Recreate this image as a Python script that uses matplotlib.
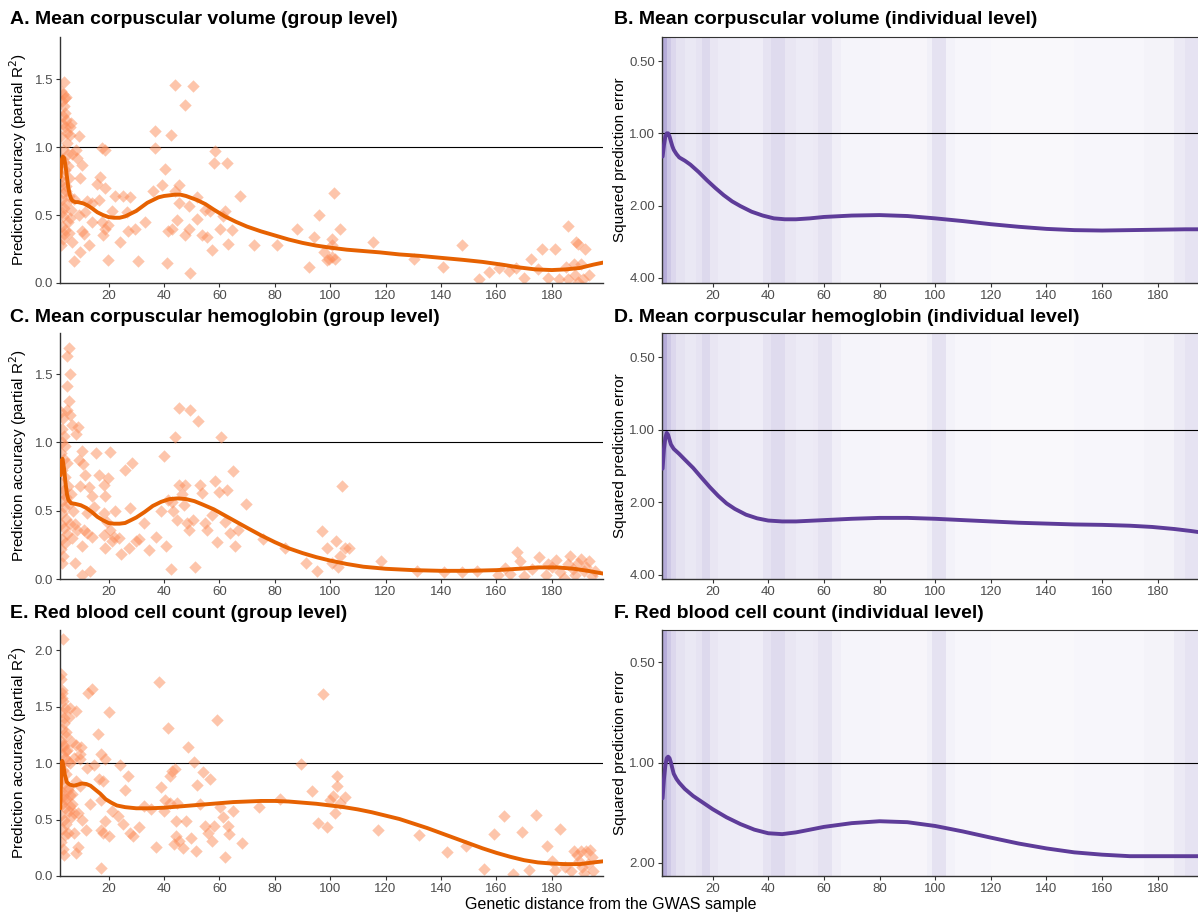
import matplotlib
matplotlib.use("Agg")
import matplotlib.pyplot as plt
import numpy as np

plt.rcParams['font.family'] = ['Liberation Sans', 'DejaVu Sans']

# colours
orange_pt = '#FC8D59'
orange_ln = '#E66101'
purple_pt = '#9A8CCB'
purple_ln = '#5E3C99'
axis_col = '#333333'
tick_col = '#4D4D4D'

# ---- group level: mean corpuscular volume (distance, partial R2) ----
a_pts = [(3.0, 1.41), (3.6, 1.39), (4.6, 1.37), (3.2, 1.34), (3.9, 1.30), (3.4, 1.23), (4.8, 1.20),
         (6.5, 1.18), (4.2, 1.15), (3.0, 1.08), (4.9, 1.03), (3.6, 0.98), (5.3, 0.95), (3.1, 0.91),
         (4.0, 0.89), (5.5, 0.86), (3.3, 0.79), (4.6, 0.71), (3.6, 0.66), (5.9, 0.64), (3.0, 0.61),
         (4.8, 0.59), (6.4, 0.54), (3.7, 0.49), (5.3, 0.45), (3.1, 0.42), (4.2, 0.39), (5.9, 0.37),
         (3.6, 0.32), (3.0, 0.28), (7.0, 0.30), (3.3, 0.75), (4.2, 0.83), (5.0, 1.10), (3.8, 0.55),
         (4.5, 0.68), (3.4, 1.17), (2.9, 0.72), (5.6, 0.77), (3.2, 0.52), (4.4, 1.25), (3.9, 0.36),
         (6.2, 0.48), (3.8, 1.48), (4.2, 1.36), (6.2, 1.15), (6.2, 1.09), (9.2, 1.08), (8.4, 0.98),
         (7.6, 0.62), (8.6, 0.92), (6.8, 0.95), (9.8, 0.77), (10.4, 0.87), (9.2, 0.50), (10.4, 0.38),
         (11.0, 0.36), (9.8, 0.23), (7.4, 0.16), (12.2, 0.60), (11.6, 0.52), (12.8, 0.28), (14.0, 0.45),
         (14.0, 0.59), (15.8, 0.73), (16.4, 0.61), (17.0, 0.78), (17.6, 0.45), (18.1, 0.35), (18.8, 0.40),
         (18.8, 0.70), (19.9, 0.43), (17.6, 0.99), (18.8, 0.98), (19.9, 0.17), (21.1, 0.53), (22.3, 0.64),
         (24.1, 0.30), (25.3, 0.64), (26.5, 0.52), (27.1, 0.38), (27.8, 0.63), (29.5, 0.40), (30.7, 0.16),
         (33.2, 0.45), (36.0, 0.68), (36.9, 1.12), (36.6, 0.99), (39.3, 0.72), (40.5, 0.84), (41.1, 0.15),
         (41.5, 0.38), (42.5, 1.09), (43.9, 1.46), (42.9, 0.40), (44.1, 0.68), (45.3, 0.72), (45.3, 0.59),
         (44.7, 0.46), (47.7, 1.31), (47.7, 0.35), (49.0, 0.40), (49.0, 0.57), (49.5, 0.07), (50.4, 1.45),
         (51.9, 0.63), (51.9, 0.47), (53.7, 0.35), (55.0, 0.54), (55.5, 0.34), (56.8, 0.53), (57.4, 0.24),
         (58.0, 0.88), (58.6, 0.97), (60.3, 0.40), (61.5, 0.49), (62.1, 0.53), (62.8, 0.88), (63.3, 0.29),
         (64.5, 0.39), (67.6, 0.64), (72.6, 0.28), (80.8, 0.28), (88.0, 0.40), (92.2, 0.12), (94.3, 0.34),
         (95.8, 0.50), (97.8, 0.23), (98.7, 0.17), (99.6, 0.18), (100.8, 0.28), (101.4, 0.66), (100.5, 0.32),
         (101.9, 0.18), (103.4, 0.40), (115.4, 0.30), (100.8, 0.19), (130.4, 0.18), (140.6, 0.12),
         (147.6, 0.28), (153.8, 0.03), (157.4, 0.08), (161.0, 0.11), (164.4, 0.09), (167.0, 0.11),
         (170.0, 0.04), (172.5, 0.18), (174.9, 0.10), (176.5, 0.25), (178.5, 0.04), (181.3, 0.25),
         (182.5, 0.03), (185.1, 0.12), (186.0, 0.42), (188.7, 0.30), (189.5, 0.29), (192.1, 0.25),
         (188.0, 0.14), (190.5, 0.14), (188.4, 0.06), (191.3, 0.03), (189.6, 0.01), (193.6, 0.06),
         (185.7, 0.03)]
a_fit_x = [2.7, 3.0, 3.5, 4.0, 4.5, 5.0, 5.5, 6.0, 6.5, 7.0, 8.0, 9.0, 10.0, 11.0, 12.5, 14, 16, 18, 20, 22,
           24, 26, 28, 30, 32, 34, 36, 38, 40, 42, 44, 46, 48, 50, 52, 55, 58, 62, 66, 70, 75, 80, 85, 90, 95,
           100, 106, 112, 118, 125, 132, 140, 148, 155, 162, 168, 174, 180, 185, 190, 195, 198.5]
a_fit_y = [0.78, 0.90, 0.93, 0.92, 0.86, 0.78, 0.70, 0.65, 0.62, 0.605, 0.595, 0.595, 0.59, 0.585, 0.57, 0.55,
           0.52, 0.50, 0.485, 0.48, 0.48, 0.49, 0.51, 0.53, 0.56, 0.59, 0.61, 0.63, 0.64, 0.645, 0.65, 0.65,
           0.64, 0.625, 0.61, 0.58, 0.54, 0.49, 0.45, 0.415, 0.38, 0.35, 0.32, 0.295, 0.275, 0.26, 0.245,
           0.235, 0.225, 0.21, 0.20, 0.185, 0.17, 0.155, 0.135, 0.115, 0.10, 0.095, 0.10, 0.11, 0.135, 0.15]

# ---- group level: mean corpuscular hemoglobin ----
c_pts = [(3.0, 1.22), (3.4, 1.18), (3.1, 1.10), (4.0, 1.05), (3.3, 1.00), (4.4, 0.97), (3.0, 0.92),
         (3.8, 0.88), (5.0, 0.85), (3.2, 0.80), (4.2, 0.75), (3.0, 0.70), (5.3, 0.68), (3.6, 0.63),
         (4.8, 0.60), (3.1, 0.57), (4.1, 0.53), (5.7, 0.55), (3.3, 0.48), (4.6, 0.44), (3.0, 0.40),
         (6.0, 0.40), (3.8, 0.37), (5.1, 0.33), (3.2, 0.29), (4.4, 0.26), (3.0, 0.22), (3.6, 0.17),
         (3.1, 0.12), (4.0, 0.65), (6.5, 0.62), (7.2, 0.50), (6.8, 0.30), (7.8, 0.40), (8.5, 0.36),
         (5.6, 1.69), (5.0, 1.63), (6.2, 1.50), (5.0, 1.41), (5.6, 1.30), (5.0, 1.24), (6.2, 1.20),
         (6.8, 1.13), (8.9, 1.11), (8.1, 1.06), (10.4, 0.94), (10.7, 0.84), (11.6, 0.76), (9.2, 0.87),
         (9.8, 0.68), (12.8, 0.67), (14.0, 0.61), (14.6, 0.53), (12.2, 0.48), (11.0, 0.36), (12.2, 0.34),
         (14.0, 0.31), (10.4, 0.24), (8.0, 0.12), (10.4, 0.03), (13.4, 0.06), (15.6, 0.92), (20.5, 0.93),
         (16.5, 0.76), (18.3, 0.69), (19.7, 0.74), (18.9, 0.61), (22.5, 0.50), (18.3, 0.48), (19.5, 0.42),
         (20.5, 0.36), (18.3, 0.32), (18.9, 0.23), (21.3, 0.28), (21.9, 0.31), (23.7, 0.30), (24.5, 0.18),
         (25.8, 0.80), (27.3, 0.23), (27.6, 0.52), (28.6, 0.85), (29.8, 0.28), (31.0, 0.29), (32.8, 0.41),
         (34.6, 0.21), (37.0, 0.31), (38.8, 0.50), (40.0, 0.90), (40.8, 0.24), (41.4, 0.58), (42.9, 0.56),
         (42.7, 0.07), (43.2, 0.50), (44.1, 1.04), (44.7, 0.43), (45.3, 0.69), (45.6, 1.25), (46.5, 0.62),
         (47.1, 0.54), (47.7, 0.69), (48.3, 0.41), (48.9, 0.36), (49.3, 1.24), (50.4, 0.43), (51.1, 0.09),
         (52.4, 1.16), (53.2, 0.69), (53.8, 0.63), (54.8, 0.41), (55.6, 0.36), (57.4, 0.47), (58.3, 0.72),
         (59.2, 0.27), (59.8, 0.64), (60.7, 1.04), (62.0, 0.42), (62.8, 0.65), (63.7, 0.34), (64.8, 0.79),
         (65.6, 0.24), (66.7, 0.36), (69.8, 0.55), (75.8, 0.29), (83.7, 0.23), (91.1, 0.12), (95.1, 0.06),
         (97.1, 0.35), (98.7, 0.23), (100.8, 0.12), (102.0, 0.28), (102.9, 0.09), (103.5, 0.17),
         (104.1, 0.68), (105.2, 0.23), (106.7, 0.23), (118.4, 0.13), (131.5, 0.06), (141.0, 0.05),
         (147.5, 0.05), (153.0, 0.06), (160.5, 0.03), (163.0, 0.08), (165.0, 0.04), (168.5, 0.13),
         (170.0, 0.02), (173.0, 0.07), (175.5, 0.16), (178.0, 0.03), (180.0, 0.09), (181.5, 0.14),
         (183.0, 0.05), (184.5, 0.01), (186.0, 0.11), (187.5, 0.07), (188.5, 0.03), (189.5, 0.12),
         (190.5, 0.15), (191.5, 0.06), (192.5, 0.09), (193.5, 0.13), (194.5, 0.02), (195.5, 0.06),
         (186.5, 0.17), (178.5, 0.11), (167.4, 0.20)]
c_fit_x = [2.7, 3.0, 3.4, 4.0, 4.5, 5.0, 5.5, 6.5, 8, 10, 12, 14, 16, 18, 20, 22, 24, 26, 28, 30, 33, 36, 39,
           42, 45, 48, 51, 54, 58, 62, 66, 70, 75, 80, 85, 90, 95, 100, 106, 112, 120, 130, 140, 150, 160, 168,
           175, 182, 188, 193, 198.5]
c_fit_y = [0.76, 0.86, 0.88, 0.80, 0.70, 0.62, 0.58, 0.555, 0.55, 0.54, 0.52, 0.49, 0.455, 0.43, 0.41, 0.405,
           0.405, 0.41, 0.43, 0.45, 0.49, 0.535, 0.565, 0.585, 0.59, 0.585, 0.57, 0.545, 0.51, 0.465, 0.42,
           0.375, 0.32, 0.27, 0.225, 0.19, 0.16, 0.135, 0.11, 0.09, 0.075, 0.065, 0.06, 0.06, 0.065, 0.075,
           0.085, 0.085, 0.075, 0.06, 0.04]

# ---- group level: red blood cell count ----
e_pts = [(3.0, 1.75), (3.2, 1.62), (3.5, 1.55), (3.1, 1.45), (4.0, 1.36), (3.3, 1.30), (4.5, 1.24),
         (3.0, 1.20), (3.8, 1.15), (5.0, 1.12), (3.2, 1.08), (4.3, 1.05), (3.0, 0.98), (3.6, 0.94),
         (4.8, 0.90), (3.3, 0.86), (4.1, 0.82), (5.4, 0.78), (3.0, 0.75), (3.7, 0.71), (4.6, 0.68),
         (3.2, 0.64), (4.2, 0.60), (5.6, 0.58), (3.0, 0.54), (3.9, 0.50), (4.7, 0.46), (3.3, 0.42),
         (4.4, 0.36), (3.0, 0.30), (3.6, 0.24), (6.2, 0.72), (7.0, 0.64), (6.5, 0.52), (7.5, 0.56),
         (6.0, 1.00), (3.4, 2.10), (3.0, 1.79), (3.1, 1.65), (3.2, 1.58), (4.3, 1.49), (6.1, 1.49),
         (4.1, 1.40), (5.7, 1.41), (8.2, 1.46), (12.7, 1.62), (14.0, 1.66), (20.0, 1.45), (16.3, 1.26),
         (4.8, 1.28), (6.8, 1.19), (8.2, 1.16), (9.9, 1.14), (9.6, 1.08), (3.4, 1.16), (4.8, 1.11),
         (5.5, 1.02), (7.5, 1.05), (9.6, 1.04), (12.1, 0.96), (14.9, 0.98), (17.2, 1.08), (18.6, 1.04),
         (16.5, 0.86), (17.9, 0.84), (24.2, 0.98), (26.9, 0.89), (25.9, 0.76), (17.2, 0.67), (13.4, 0.64),
         (8.2, 0.84), (9.6, 0.80), (5.5, 0.76), (6.8, 0.73), (4.1, 0.68), (6.1, 0.62), (8.9, 0.56),
         (10.3, 0.50), (11.7, 0.41), (7.5, 0.38), (5.5, 0.38), (8.9, 0.26), (8.2, 0.20), (4.1, 0.19),
         (17.2, 0.07), (17.2, 0.41), (18.6, 0.49), (17.9, 0.38), (20.0, 0.35), (21.4, 0.58), (23.5, 0.53),
         (25.3, 0.46), (27.6, 0.38), (29.0, 0.35), (31.1, 0.43), (32.9, 0.62), (35.2, 0.59), (37.0, 0.26),
         (38.4, 1.72), (38.9, 0.79), (40.4, 0.67), (41.5, 1.31), (42.2, 0.89), (42.9, 0.93), (44.0, 0.95),
         (40.1, 0.58), (42.2, 0.65), (44.2, 0.49), (44.9, 0.65), (43.5, 0.28), (44.5, 0.35), (45.6, 0.31),
         (47.0, 0.25), (47.9, 0.49), (48.7, 1.14), (49.8, 0.34), (50.7, 1.01), (51.4, 0.22), (52.1, 0.81),
         (53.2, 0.64), (54.2, 0.92), (54.9, 0.44), (56.0, 0.38), (56.7, 0.86), (57.5, 0.31), (58.1, 0.44),
         (59.2, 1.38), (60.4, 0.61), (61.3, 0.52), (62.0, 0.17), (63.0, 0.44), (63.4, 0.37), (65.0, 0.58),
         (68.1, 0.29), (74.3, 0.61), (82.0, 0.68), (89.5, 0.99), (93.4, 0.75), (95.5, 0.47), (97.3, 1.61),
         (98.9, 0.43), (99.9, 0.67), (101.0, 0.71), (101.7, 0.56), (102.4, 0.89), (102.4, 0.80),
         (103.4, 0.65), (105.2, 0.70), (117.2, 0.41), (132.2, 0.36), (142.2, 0.21), (149.1, 0.27),
         (155.5, 0.06), (159.2, 0.37), (162.9, 0.53), (166.1, 0.02), (169.2, 0.39), (171.6, 0.05),
         (174.4, 0.54), (178.3, 0.27), (179.9, 0.13), (181.3, 0.05), (183.0, 0.42), (184.8, 0.08),
         (186.9, 0.04), (187.9, 0.22), (189.0, 0.19), (190.4, 0.22), (191.0, 0.08), (191.7, 0.03),
         (192.4, 0.22), (193.8, 0.23), (194.5, 0.17), (194.9, 0.04), (189.7, 0.13), (193.1, 0.11)]
e_fit_x = [2.6, 2.9, 3.3, 3.7, 4.2, 5.0, 6.0, 7.5, 9, 10.5, 12, 13.5, 15, 17, 19, 21, 23, 26, 30, 35, 40, 45,
           50, 55, 60, 65, 70, 75, 80, 85, 90, 95, 100, 105, 110, 115, 120, 125, 130, 135, 140, 145, 150, 155,
           160, 165, 170, 175, 180, 185, 190, 195, 198.5]
e_fit_y = [0.60, 0.90, 1.02, 0.98, 0.90, 0.83, 0.81, 0.80, 0.81, 0.82, 0.815, 0.80, 0.77, 0.73, 0.68, 0.65,
           0.625, 0.61, 0.60, 0.60, 0.605, 0.615, 0.625, 0.635, 0.645, 0.655, 0.66, 0.665, 0.665, 0.66, 0.65,
           0.64, 0.625, 0.61, 0.59, 0.565, 0.535, 0.505, 0.465, 0.425, 0.38, 0.335, 0.29, 0.245, 0.205, 0.17,
           0.14, 0.12, 0.11, 0.105, 0.105, 0.12, 0.13]

# ---- individual level: smoothed squared prediction error ----
b_fit_x = [2.0, 2.5, 3.0, 3.5, 4.0, 4.5, 5.0, 5.5, 6.0, 7, 8, 10, 12, 15, 18, 21, 24, 27, 30, 34, 38, 42, 46,
           50, 55, 60, 70, 80, 90, 100, 110, 120, 130, 140, 150, 160, 170, 180, 190, 196]
b_fit_y = [1.25, 1.12, 1.03, 1.00, 1.00, 1.03, 1.08, 1.13, 1.17, 1.22, 1.26, 1.30, 1.35, 1.45, 1.57, 1.69,
           1.81, 1.92, 2.01, 2.12, 2.20, 2.26, 2.28, 2.28, 2.26, 2.23, 2.20, 2.19, 2.21, 2.26, 2.32, 2.39,
           2.45, 2.50, 2.53, 2.54, 2.53, 2.52, 2.51, 2.51]
d_fit_x = [2.0, 2.5, 3.0, 3.5, 4.0, 4.5, 5.0, 6, 8, 10, 13, 16, 19, 22, 25, 28, 32, 36, 40, 45, 50, 60, 70, 80,
           90, 100, 110, 120, 130, 140, 150, 160, 170, 178, 186, 192, 196]
d_fit_y = [1.45, 1.20, 1.08, 1.03, 1.05, 1.10, 1.15, 1.20, 1.26, 1.33, 1.44, 1.58, 1.73, 1.88, 2.02, 2.13,
           2.25, 2.33, 2.38, 2.40, 2.40, 2.37, 2.34, 2.32, 2.32, 2.34, 2.37, 2.40, 2.43, 2.45, 2.47, 2.48,
           2.50, 2.53, 2.58, 2.63, 2.67]
f_fit_x = [2.0, 2.5, 3.0, 3.5, 4.0, 4.5, 5.0, 5.5, 6.0, 7, 8, 10, 13, 16, 20, 25, 30, 35, 40, 45, 50, 55, 60,
           70, 80, 90, 100, 110, 120, 130, 140, 150, 160, 170, 180, 190, 196]
f_fit_y = [1.28, 1.12, 1.02, 0.97, 0.96, 0.97, 1.00, 1.04, 1.08, 1.12, 1.15, 1.20, 1.26, 1.31, 1.38, 1.46,
           1.53, 1.59, 1.63, 1.64, 1.62, 1.59, 1.56, 1.52, 1.50, 1.51, 1.55, 1.61, 1.68, 1.75, 1.81, 1.86,
           1.89, 1.91, 1.91, 1.91, 1.91]

# density of individuals along genetic distance (relative shading)
band_lo = [1.8, 3.5, 5.0, 7.0, 10.0, 14.0, 16.0, 19.0, 22.0, 30.0, 38.0, 41.0, 46.0, 50.0, 56.0, 58.0, 63.0,
           66.0, 80.0, 97.0, 99.0, 104.0, 107.0, 120.0, 150.0, 175.0, 186.0, 190.0]
band_hi = [3.5, 5.0, 7.0, 10.0, 14.0, 16.0, 19.0, 22.0, 30.0, 38.0, 41.0, 46.0, 50.0, 56.0, 58.0, 63.0, 66.0,
           80.0, 97.0, 99.0, 104.0, 107.0, 120.0, 150.0, 175.0, 186.0, 190.0, 196.0]
band_density = [0.72, 0.48, 0.34, 0.25, 0.20, 0.24, 0.33, 0.21, 0.17, 0.15, 0.24, 0.31, 0.21, 0.17, 0.19, 0.25,
                0.14, 0.09, 0.08, 0.13, 0.25, 0.11, 0.07, 0.06, 0.07, 0.10, 0.18, 0.24]

fig = plt.figure(figsize=(11.98, 9.14), dpi=100)
fig.set_facecolor('white')

rows = [0.6904, 0.3665, 0.0416]
h = 0.2691
left_titles = ['A. Mean corpuscular volume (group level)',
               'C. Mean corpuscular hemoglobin (group level)',
               'E. Red blood cell count (group level)']
right_titles = ['B. Mean corpuscular volume (individual level)',
                'D. Mean corpuscular hemoglobin (individual level)',
                'F. Red blood cell count (individual level)']
title_y = [894, 597, 300]

group_data = [(a_pts, a_fit_x, a_fit_y, 1.81, [0.0, 0.5, 1.0, 1.5]),
              (c_pts, c_fit_x, c_fit_y, 1.80, [0.0, 0.5, 1.0, 1.5]),
              (e_pts, e_fit_x, e_fit_y, 2.18, [0.0, 0.5, 1.0, 1.5, 2.0])]
indiv_data = [(b_fit_x, b_fit_y, (0.397, 4.2), [0.5, 1, 2, 4]),
              (d_fit_x, d_fit_y, (0.397, 4.16), [0.5, 1, 2, 4]),
              (f_fit_x, f_fit_y, (0.40, 2.19), [0.5, 1, 2])]


def style_axis(ax):
    for side in ['right', 'top']:
        ax.spines[side].set_visible(False)
    for side in ['left', 'bottom']:
        ax.spines[side].set_color(axis_col)
        ax.spines[side].set_linewidth(1.0)
    ax.tick_params(colors=axis_col, labelcolor=tick_col, labelsize=9.5, length=3, width=0.8, pad=2)


for i in range(3):
    # group level panel
    pts, fx, fy, ytop, yt = group_data[i]
    gx, gy = zip(*pts)
    ax = fig.add_axes([0.0501, rows[i], 0.4533, h])
    ax.axhline(1.0, color='black', lw=0.8, zorder=1)
    ax.scatter(gx, gy, marker='D', s=40, color=orange_pt, alpha=0.5, linewidths=0, zorder=2)
    ax.plot(fx, fy, color=orange_ln, lw=2.8, solid_capstyle='round', solid_joinstyle='round', zorder=3)
    ax.set_xlim(2.5, 198.5)
    ax.set_ylim(0, ytop)
    ax.set_xticks(range(20, 181, 20))
    ax.set_yticks(yt)
    ax.set_yticklabels(['{:.1f}'.format(v) for v in yt])
    ax.set_ylabel('Prediction accuracy (partial R$^2$)', fontsize=11)
    ax.yaxis.set_label_coords(-0.057, 0.5)
    style_axis(ax)
    fig.text(10 / 1198, title_y[i] / 914, left_titles[i], fontsize=14, fontweight='bold', va='center')

    # individual level panel
    px, py, ylims, yt = indiv_data[i]
    ax2 = fig.add_axes([0.5526, rows[i], 0.4474, h])
    for lo, hi, d in zip(band_lo, band_hi, band_density):
        ax2.axvspan(lo, hi, color=purple_pt, alpha=d, lw=0, zorder=0)
    ax2.set_yscale('log')
    ax2.axhline(1.0, color='black', lw=0.8, zorder=1)
    ax2.plot(px, py, color=purple_ln, lw=2.8, solid_capstyle='round', solid_joinstyle='round', zorder=3)
    ax2.set_xlim(1.8, 194.5)
    ax2.set_ylim(ylims[1], ylims[0])
    ax2.set_xticks(range(20, 181, 20))
    ax2.set_yticks(yt)
    ax2.set_yticklabels(['{:.2f}'.format(v) for v in yt])
    ax2.yaxis.set_minor_locator(matplotlib.ticker.NullLocator())
    ax2.set_ylabel('Squared prediction error', fontsize=11)
    ax2.yaxis.set_label_coords(-0.066, 0.5)
    style_axis(ax2)
    ax2.spines['top'].set_visible(True)
    ax2.spines['top'].set_color(axis_col)
    fig.text(614 / 1198, title_y[i] / 914, right_titles[i], fontsize=14, fontweight='bold', va='center')

fig.text(611 / 1198, 10 / 914, 'Genetic distance from the GWAS sample', fontsize=11.5, ha='center', va='center')

fig.savefig('out.png', dpi=100)
